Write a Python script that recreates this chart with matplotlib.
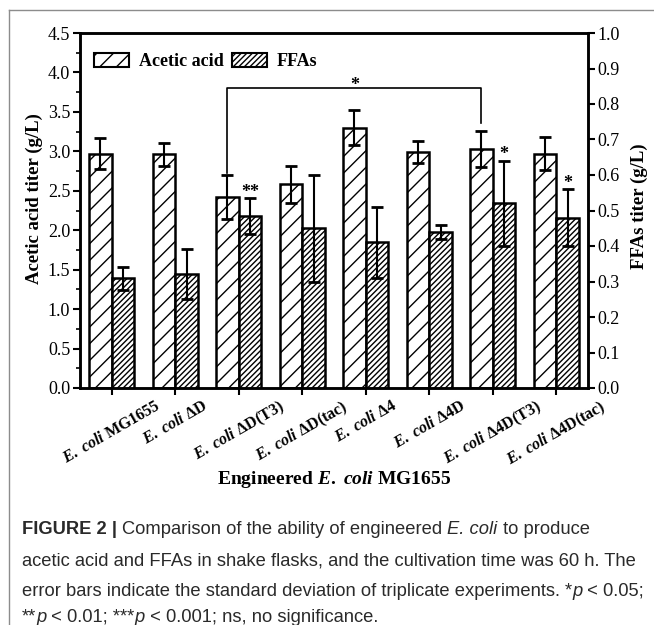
import matplotlib
matplotlib.use('Agg')
import matplotlib.pyplot as plt
import matplotlib.patches as mpatches
from matplotlib.lines import Line2D
import numpy as np

# data
strains = [r'$\mathit{E.\ coli}$ MG1655', r'$\mathit{E.\ coli}$ ΔD', r'$\mathit{E.\ coli}$ ΔD(T3)',
           r'$\mathit{E.\ coli}$ ΔD(tac)', r'$\mathit{E.\ coli}$ Δ4', r'$\mathit{E.\ coli}$ Δ4D',
           r'$\mathit{E.\ coli}$ Δ4D(T3)', r'$\mathit{E.\ coli}$ Δ4D(tac)']
acetic = [2.97, 2.96, 2.42, 2.58, 3.30, 2.99, 3.03, 2.97]
acetic_err = [0.20, 0.15, 0.28, 0.24, 0.22, 0.14, 0.23, 0.21]
ffa = [0.309, 0.321, 0.485, 0.450, 0.410, 0.440, 0.520, 0.480]
ffa_err = [0.032, 0.070, 0.050, 0.150, 0.100, 0.020, 0.120, 0.080]
ffa_sig = {2: '**', 6: '*', 7: '*'}
bracket = (2, 6, 3.8)   # groups joined, height on acetic axis

plt.rcParams['font.family'] = 'Liberation Serif'
plt.rcParams['mathtext.fontset'] = 'custom'
plt.rcParams['mathtext.it'] = 'Liberation Serif:italic:bold'
plt.rcParams['mathtext.rm'] = 'Liberation Serif:bold'
plt.rcParams['mathtext.bf'] = 'Liberation Serif:bold'
plt.rcParams['hatch.linewidth'] = 1.0

fig = plt.figure(figsize=(6.54, 6.25), dpi=100)
ax = fig.add_axes([80/654, 1-388/625, 508/654, 355/625])
ax2 = ax.twinx()

x = np.arange(len(strains))
w = 0.355
b1 = ax.bar(x - w/2, acetic, w, color='white', edgecolor='black', linewidth=1.8, hatch='//',
            yerr=acetic_err, capsize=4.5, error_kw=dict(elinewidth=1.5, capthick=2, ecolor='black'))
b2 = ax2.bar(x + w/2, ffa, w, color='white', edgecolor='black', linewidth=1.8, hatch='//////',
             yerr=ffa_err, capsize=4.5, error_kw=dict(elinewidth=1.5, capthick=2, ecolor='black'))

for i, s in ffa_sig.items():
    ax2.text(i + w/2, ffa[i] + ffa_err[i] + 0.004, s, ha='center', va='baseline',
             fontsize=13, fontweight='bold')

g1, g2, h = bracket
xa, xb = g1 - w/2, g2 - w/2
ax.plot([xa, xa, xb, xb],
        [acetic[g1] + acetic_err[g1] + 0.02, h, h, acetic[g2] + acetic_err[g2] + 0.1],
        color='black', linewidth=1.2)
ax.text((xa + xb)/2, h - 0.02, '*', ha='center', va='baseline', fontsize=13, fontweight='bold')

ax.set_xlim(-0.5, 7.5)
ax.set_ylim(0, 4.5)
ax2.set_ylim(0, 1.0)
ax.set_yticks(np.arange(0, 4.51, 0.5))
ax.set_yticks(np.arange(0.25, 4.5, 0.5), minor=True)
ax2.set_yticks(np.arange(0, 1.01, 0.1))
ax.set_yticklabels(['%.1f' % v for v in np.arange(0, 4.51, 0.5)], fontsize=13)
ax2.set_yticklabels(['%.1f' % v for v in np.arange(0, 1.01, 0.1)], fontsize=13)
ax.set_xticks(x)
ax.set_xticklabels(strains, rotation=30, ha='center', va='top',
                   fontsize=11.5, fontweight='bold')
ax.tick_params(axis='y', which='major', length=5, width=1.5, pad=2)
ax.tick_params(axis='y', which='minor', length=3, width=1.2)
ax.tick_params(axis='x', length=5, width=1.5, pad=2)
ax2.tick_params(axis='y', length=5, width=1.5, pad=2)
for a in (ax, ax2):
    for sp in a.spines.values():
        sp.set_linewidth(1.8)

ax.set_ylabel('Acetic acid titer (g/L)', fontsize=13.5, fontweight='bold')
ax.yaxis.set_label_coords(-0.073, 0.535)
ax2.set_ylabel('FFAs titer (g/L)', fontsize=13.5, fontweight='bold', rotation=90)
ax2.yaxis.set_label_coords(1.084, 0.513)
ax.set_xlabel(r'Engineered $\mathit{E.\ coli}$ MG1655', fontsize=14, fontweight='bold')
ax.xaxis.set_label_coords(0.5, (388 - 479) / 355)
ax.xaxis.label.set_va('center')

handles = [mpatches.Patch(facecolor='white', edgecolor='black', linewidth=1.5, hatch='//'),
           mpatches.Patch(facecolor='white', edgecolor='black', linewidth=1.5, hatch='//////')]
ax2.legend(handles, ['Acetic acid', 'FFAs'], loc='upper left', ncol=2, frameon=False,
           prop=dict(family='Liberation Serif', weight='bold', size=13),
           handlelength=1.95, handleheight=0.8, columnspacing=0.45, handletextpad=0.55,
           bbox_to_anchor=(-0.005, 0.99))

# thin grey frame of the figure panel
fig.add_artist(Line2D([9/654, 1], [1-10/625, 1-10/625], color='#8c8c8c', linewidth=1))
fig.add_artist(Line2D([9/654, 9/654], [1-10/625, 0], color='#8c8c8c', linewidth=1))

# caption, written run by run so styles can mix
cap_font = 'Liberation Sans'
cap_size = 13.2
cap_lines = [
    [('FIGURE 2 | ', 'bold', 'normal'), ('Comparison of the ability of engineered ', 'normal', 'normal'),
     ('E. coli', 'normal', 'italic'), (' to produce', 'normal', 'normal')],
    [('acetic acid and FFAs in shake flasks, and the cultivation time was 60 h. The', 'normal', 'normal')],
    [('error bars indicate the standard deviation of triplicate experiments. ', 'normal', 'normal'),
     ('*', 'normal', 'normal'), ('p', 'normal', 'italic'), (' < 0.05;', 'normal', 'normal')],
    [('**', 'normal', 'normal'), ('p', 'normal', 'italic'), (' < 0.01; ***', 'normal', 'normal'),
     ('p', 'normal', 'italic'), (' < 0.001; ns, no significance.', 'normal', 'normal')],
]
cap_y = [530, 561, 591, 617]
fig.canvas.draw()
renderer = fig.canvas.get_renderer()
for runs, yp in zip(cap_lines, cap_y):
    xp = 22
    for txt, wt, st in runs:
        t = fig.text(xp/654, 1-yp/625, txt, fontsize=cap_size, family=cap_font, weight=wt,
                     style=st, va='center', ha='left', color='#2a2a2a')
        bb = t.get_window_extent(renderer)
        xp += bb.width

fig.savefig('out.png', dpi=100)
